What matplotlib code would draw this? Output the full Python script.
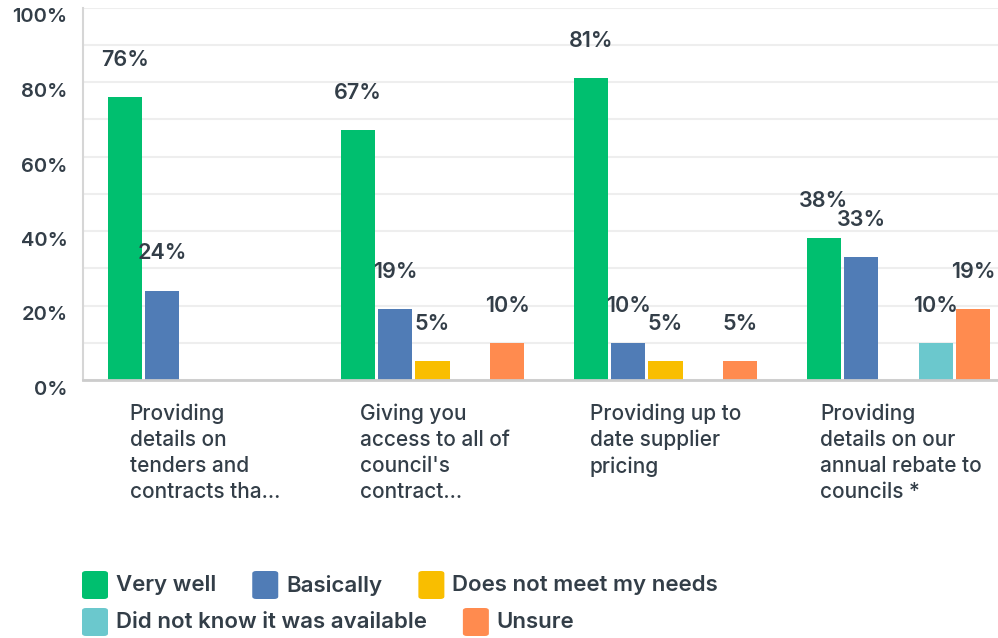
import matplotlib
matplotlib.use("Agg")
import matplotlib.pyplot as plt
from matplotlib.patches import FancyBboxPatch
from matplotlib.transforms import ScaledTranslation, blended_transform_factory
import numpy as np

categories = [
    "Providing\ndetails on\ntenders and\ncontracts tha...",
    "Giving you\naccess to all of\ncouncil's\ncontract...",
    "Providing up to\ndate supplier\npricing",
    "Providing\ndetails on our\nannual rebate to\ncouncils *",
]
series_names = ["Very well", "Basically", "Does not meet my needs",
                "Did not know it was available", "Unsure"]
very_well = [76, 67, 81, 38]
basically = [24, 19, 10, 33]
not_meet = [0, 5, 5, 0]
did_not_know = [0, 0, 0, 10]
unsure = [0, 10, 5, 19]
y_ticks = [0, 20, 40, 60, 80, 100]

series = [very_well, basically, not_meet, did_not_know, unsure]
colors = ["#00bf6f", "#507cb6", "#f9be00", "#6bc8cd", "#ff8b4f"]
text_color = "#333e48"

plt.rcParams['font.family'] = ['Inter', 'DejaVu Sans']

W, H = 998, 638
fig = plt.figure(figsize=(W / 100, H / 100), dpi=100)
ax = fig.add_axes([83 / W, 1 - 380 / H, 932 / W, 372.5 / H])

x = np.arange(len(categories))
step = 0.16
bw = 0.146
for i, (vals, c) in enumerate(zip(series, colors)):
    pos = x + (i - 2) * step
    ax.bar(pos, vals, width=bw, color=c, zorder=3)
    for p, v in zip(pos, vals):
        if v > 0:
            ax.text(p, v + 10, f"{v}%", ha='center', va='center',
                    fontsize=15.5, fontweight=600, color=text_color, zorder=4)

ax.set_xlim(-0.5, 3.5)
ax.set_ylim(0, 100)
ax.set_yticks(y_ticks)
ax.set_yticklabels([f"{t}%" for t in y_ticks])
ax.set_yticks(np.arange(10, 100, 20), minor=True)
ax.grid(axis='y', which='both', color='#eeeeee', linewidth=1.5, zorder=0)
ax.tick_params(axis='y', which='both', length=0, pad=11)
ax.tick_params(axis='x', length=0)
for lab in ax.get_yticklabels():
    lab.set_fontsize(14.5)
    lab.set_fontweight(600)
    lab.set_color(text_color)
    lab.set_transform(lab.get_transform() + ScaledTranslation(0, -8 / 100, fig.dpi_scale_trans))

ax.set_xticks([])
trans = blended_transform_factory(ax.transData, ax.transAxes)
for xi, cat in zip(x, categories):
    ax.text(xi - 0.012 * xi, -0.062, cat,
            transform=trans + ScaledTranslation(-70 / 100, 0, fig.dpi_scale_trans),
            ha='left', va='top', fontsize=15, color=text_color, linespacing=1.38,
            fontweight=500)

for s in ['top', 'right']:
    ax.spines[s].set_visible(False)
ax.spines['left'].set_color('#d6d6d6')
ax.spines['left'].set_linewidth(1.5)
ax.spines['bottom'].set_color('#cccccc')
ax.spines['bottom'].set_linewidth(2)
ax.spines['bottom'].set_zorder(5)

# legend (flow layout)
renderer = fig.canvas.get_renderer()
rows = [[0, 1, 2], [3, 4]]
row_y = [585, 622]
for row, yc in zip(rows, row_y):
    xp = 82
    for idx in row:
        sq = FancyBboxPatch((xp / W, (H - yc - 14) / H), 26 / W, 28 / H,
                            boxstyle="round,pad=0,rounding_size=0.004",
                            transform=fig.transFigure, facecolor=colors[idx],
                            edgecolor='none')
        fig.add_artist(sq)
        t = fig.text((xp + 34) / W, (H - yc) / H, series_names[idx], ha='left', va='center',
                     fontsize=16, fontweight=600, color=text_color)
        bb = t.get_window_extent(renderer)
        xp = bb.x1 + 36

fig.savefig("out.png", dpi=100)
